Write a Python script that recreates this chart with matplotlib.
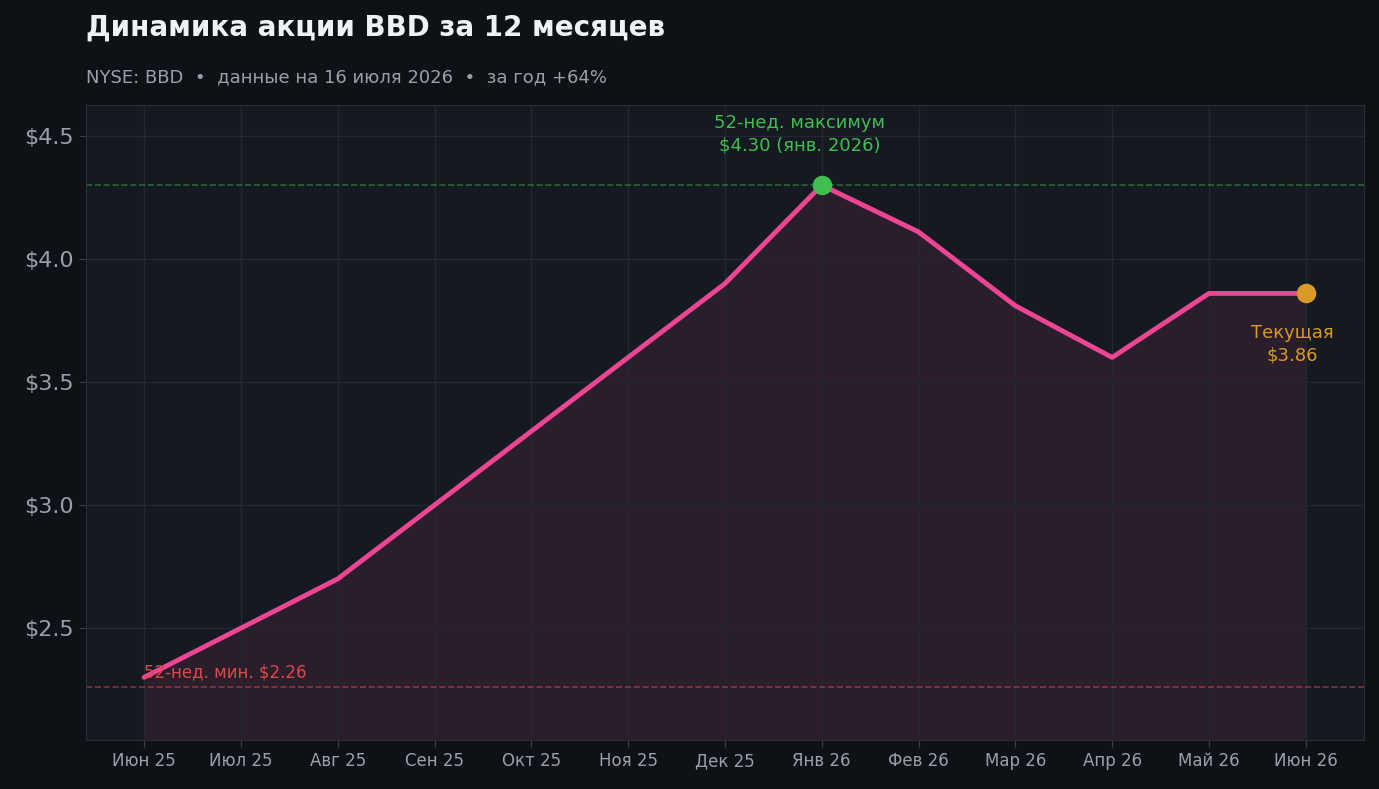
import numpy as np
import matplotlib
matplotlib.use('Agg')
import matplotlib.pyplot as plt

plt.rcParams['font.family'] = ['DejaVu Sans']

months = ['Июн 25', 'Июл 25', 'Авг 25', 'Сен 25', 'Окт 25', 'Ноя 25', 'Дек 25',
          'Янв 26', 'Фев 26', 'Мар 26', 'Апр 26', 'Май 26', 'Июн 26']
prices = [2.30, 2.50, 2.70, 3.00, 3.30, 3.60, 3.90, 4.30, 4.11, 3.81, 3.60, 3.86, 3.86]
high_52 = 4.30
low_52 = 2.26
y_ticks = [2.5, 3.0, 3.5, 4.0, 4.5]

bg_fig  = '#0e1217'
bg_ax   = '#151a22'
pink    = '#ec4593'
green   = '#3fbf4f'
gold    = '#d99a26'
red     = '#d84a4a'
grey    = '#9aa0aa'

fig = plt.figure(figsize=(13.79, 7.89), dpi=100, facecolor=bg_fig)
ax = fig.add_axes([0.0624, 0.062, 0.9266, 0.805])
ax.set_facecolor(bg_ax)

x = np.arange(len(months))
ax.fill_between(x, prices, 2.0, color=pink, alpha=0.1, lw=0)
ax.plot(x, prices, color=pink, lw=3.5, solid_capstyle='round', zorder=3)

ax.axhline(high_52, color=green, ls='--', lw=1.2, alpha=0.45)
ax.axhline(low_52, color=red, ls='--', lw=1.2, alpha=0.55)

i_max = int(np.argmax(prices))
ax.scatter([i_max], [prices[i_max]], s=170, color=green, zorder=4)
ax.annotate('52-нед. максимум\n$%.2f (янв. 2026)' % high_52, (i_max, prices[i_max]),
            xytext=(-16, 22), textcoords='offset points', ha='center', va='bottom',
            color=green, fontsize=13, linespacing=1.3)
ax.scatter([x[-1]], [prices[-1]], s=170, color=gold, zorder=4)
ax.annotate('Текущая\n$%.2f' % prices[-1], (x[-1], prices[-1]),
            xytext=(-10, -22), textcoords='offset points', ha='center', va='top',
            color=gold, fontsize=13, linespacing=1.3)
ax.text(0, low_52 + 0.025, '52-нед. мин. $%.2f' % low_52, color=red, fontsize=12,
        ha='left', va='bottom')

ax.set_xlim(-0.6, 12.6)
ax.set_ylim(2.045, 4.626)
ax.set_xticks(x)
ax.set_xticklabels(months, color=grey, fontsize=12)
ax.set_yticks(y_ticks)
ax.set_yticklabels(['$%.1f' % v for v in y_ticks], color=grey, fontsize=16)
ax.tick_params(axis='both', length=5, color='#3a404a')
ax.grid(True, color='#222731', lw=1)
for s in ax.spines.values():
    s.set_color('#2a2f38')

fig.text(0.0624, 0.965, 'Динамика акции BBD за 12 месяцев', color='#eef1f5',
         fontsize=20, fontweight='bold', ha='left', va='center')
fig.text(0.0624, 0.902, 'NYSE: BBD  •  данные на 16 июля 2026  •  за год +64%',
         color=grey, fontsize=13, ha='left', va='center')

fig.savefig('out.png', dpi=100, facecolor=bg_fig)
